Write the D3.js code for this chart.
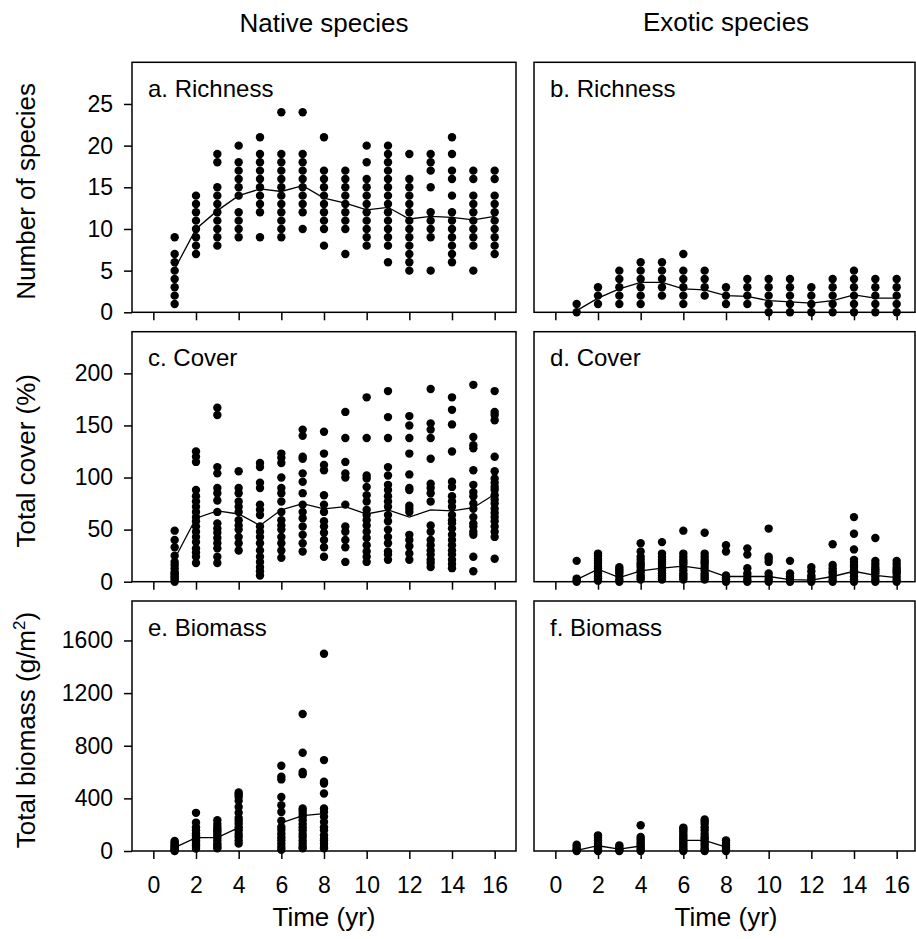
<!DOCTYPE html>
<html>
<head>
<meta charset="utf-8">
<script src="https://cdn.jsdelivr.net/npm/d3@7"></script>
<style>
  body { margin: 0; background: #fff; }
  text { font-family: "Liberation Sans", Arial, sans-serif; fill: #000; }
</style>
</head>
<body>
<script>
// data, one array per year (1..16)
var years = d3.range(1, 17);
var xTicks = [0, 2, 4, 6, 8, 10, 12, 14, 16];

var nativeRichness = [
  [1,2,3,4,5,6,7,9],
  [7,8,9,10,11,12,13,14],
  [8,9,10,11,12,13,14,15,18,19],
  [9,10,11,12,14,15,16,17,18,20],
  [9,12,13,14,15,16,17,18,19,21],
  [9,10,11,12,13,14,15,16,17,18,19,24],
  [10,12,13,14,15,16,17,18,19,24],
  [8,10,11,12,13,14,15,16,17,21],
  [7,10,11,12,13,14,15,16,17],
  [8,9,10,11,12,13,14,15,16,18,20],
  [6,8,9,10,11,12,13,14,15,16,17,18,19,20],
  [5,6,7,8,9,10,11,12,13,14,15,16,19],
  [5,9,10,11,12,15,17,18,19],
  [6,7,8,9,10,11,12,14,16,17,19,21],
  [5,8,9,10,11,12,13,14,16,17],
  [7,8,9,10,11,12,13,14,16,17]
];
var nativeRichnessMean = [5.2,10,12.2,14,14.8,14.5,15.2,13.7,13.1,12.3,12.6,11.2,11.5,11.4,11.1,11.5];

var exoticRichness = [
  [0,1], [1,2,3], [1,2,3,4,5], [1,2,3,4,5,6], [2,3,4,5,6], [1,2,3,4,5,7],
  [2,3,4,5], [1,2,3], [1,2,3,4], [0,1,2,3,4], [0,1,2,3,4], [0,1,2,3],
  [0,1,2,3,4], [0,1,2,3,4,5], [0,1,2,3,4], [0,1,2,3,4]
];
var exoticRichnessMean = [0.2,1.7,2.8,3.6,3.6,2.8,2.7,2.0,1.9,1.4,1.25,1.1,1.4,2.1,1.7,1.7];

var nativeCover = [
  [0,2,3.5,5,6.5,8,9.5,13,16,19,25,33,40,49],
  [18,24,28,32,38,43,48,53,58,62,67,72,77,82,88,115,120,125],
  [18,24,32,37,42,47,51,56,67,78,85,90,104,110,160,167],
  [30,37,43,50,54,59,67,72,77,85,90,106],
  [6,10,14,19,24,30,37,43,48,53,64,69,74,90,95,110,114],
  [23,30,37,43,50,54,59,67,77,85,90,100,114,119,123],
  [29,37,45,53,61,67,74,85,96,104,118,120,140,146],
  [24,33,40,47,53,58,67,74,83,107,112,123,144],
  [19,33,40,48,53,74,100,104,115,138,163],
  [19,24,29,35,42,48,54,59,64,69,77,83,91,99,102,138,177],
  [21,26,29,37,43,50,58,64,72,77,82,88,93,102,110,138,158,183],
  [21,27,34,40,45,67,70,73,88,90,103,123,138,150,159],
  [14,18,21,26,30,35,40,48,54,77,85,90,94,118,138,146,152,185],
  [13,17,21,26,30,35,40,45,51,56,59,64,72,77,82,91,96,125,151,165,177],
  [10,24,45,48,53,56,62,70,75,82,86,93,107,128,131,139,189],
  [22,43,48,53,58,62,66,70,75,79,83,88,91,95,99,106,120,155,160,163,183]
];
var nativeCoverMean = [22,61,68,65,54,69,75,70,72,65,69,62,69,68,71,84];

var exoticCover = [
  [0,1,3,20],
  [1,3,5,8,10,13,15,18,20,22,25,27],
  [0,2,5,8,10,12,14],
  [2,4,6,9,11,14,16,18,21,24,29,37],
  [2,4,6,8,11,14,17,19,21,24,27,38],
  [2,4,6,8,11,14,17,19,21,24,27,49],
  [2,4,6,8,11,14,17,19,21,24,27,47],
  [0,2,4,6,29,35],
  [0,2,5,8,13,26,32],
  [0,2,5,8,19,22,24,51],
  [0,2,5,8,20],
  [0,2,4,6,10,14],
  [0,2,5,8,10,13,16,36],
  [0,2,5,8,11,14,16,19,21,31,46,62],
  [0,2,5,8,10,12,14,17,20,42],
  [0,2,5,8,10,12,14,17,20]
];
var exoticCoverMean = [2,12,4,10.5,13,15,12,5,5,5,2,1.5,5,10,6,4];

// biomass only sampled in years 1-4 and 6-8
var nativeBiomass = [
  [0,5,10,18,25,35,43,55,65,76],
  [18,30,43,55,68,81,95,108,119,135,157,180,216,290],
  [20,30,45,60,81,100,115,132,150,165,183,205,234],
  [56,80,107,130,157,180,208,230,251,290,335,381,411,430,445],
  [],
  [10,30,55,81,105,132,160,183,230,297,348,411,544,564,648],
  [20,30,55,80,107,130,157,180,205,234,260,284,305,323,584,600,747,1041],
  [20,30,55,80,94,120,157,180,221,260,297,323,437,513,526,691,1499],
  [], [], [], [], [], [], [], []
];
var nativeBiomassMean = [25,102,102,178,null,213,269,284,null,null,null,null,null,null,null,null];

var exoticBiomass = [
  [0,5,15,30,48],
  [0,5,15,30,45,60,80,100,119],
  [0,5,15,30,43],
  [0,10,25,40,55,70,90,107,196],
  [],
  [0,10,25,40,55,70,85,100,115,132,150,165,178],
  [0,5,20,40,56,75,95,107,130,157,180,208,225,239],
  [0,10,25,43,60,81],
  [], [], [], [], [], [], [], []
];
var exoticBiomassMean = [5,40,15,38,null,81,81,30,null,null,null,null,null,null,null,null];

var rowMax = [30, 240, 1900];
var rowTicks = [[0,5,10,15,20,25], [0,50,100,150,200], [0,400,800,1200,1600]];
var rowTitles = ["Number of species", "Total cover (%)", "Total biomass (g/m"];
var colTitles = ["Native species", "Exotic species"];

var panels = [
  {label: "a. Richness", row: 0, col: 0, pts: nativeRichness, mean: nativeRichnessMean},
  {label: "b. Richness", row: 0, col: 1, pts: exoticRichness, mean: exoticRichnessMean},
  {label: "c. Cover",    row: 1, col: 0, pts: nativeCover,    mean: nativeCoverMean},
  {label: "d. Cover",    row: 1, col: 1, pts: exoticCover,    mean: exoticCoverMean},
  {label: "e. Biomass",  row: 2, col: 0, pts: nativeBiomass,  mean: nativeBiomassMean},
  {label: "f. Biomass",  row: 2, col: 1, pts: exoticBiomass,  mean: exoticBiomassMean}
];

var w = 916, h = 939;
var colLeft = [132, 534], colFrameW = [384, 381], scaleW = 384;
var rowTop = [62.3, 331.7, 601], ph = 250;

var svg = d3.select("body").append("svg")
    .attr("width", w)
    .attr("height", h);

function xScale(col) {
  return d3.scaleLinear().domain([-1, 17]).range([colLeft[col], colLeft[col] + scaleW]);
}
function yScale(row) {
  return d3.scaleLinear().domain([0, rowMax[row]]).range([rowTop[row] + ph, rowTop[row]]);
}

panels.forEach(function(p) {
  var x = xScale(p.col), y = yScale(p.row);
  var g = svg.append("g");

  // x ticks on every panel, labels only on the bottom row
  var xa = g.append("g")
      .attr("transform", "translate(0," + (rowTop[p.row] + ph) + ")")
      .call(d3.axisBottom(x).tickValues(xTicks).tickSize(8).tickPadding(18)
        .tickFormat(p.row == 2 ? d3.format("d") : function() { return ""; }));
  xa.select(".domain").remove();

  if (p.col == 0) {
    var ya = g.append("g")
        .attr("transform", "translate(" + colLeft[0] + ",0)")
        .call(d3.axisLeft(y).tickValues(rowTicks[p.row]).tickSize(8).tickPadding(11)
          .tickFormat(d3.format("d")));
    ya.select(".domain").remove();
  }
  g.selectAll(".tick line").attr("stroke", "#000").attr("stroke-width", 1.5);
  g.selectAll(".tick text").style("font-size", "23px").attr("fill", "#000");

  g.append("rect")
      .attr("x", colLeft[p.col])
      .attr("y", rowTop[p.row])
      .attr("width", colFrameW[p.col])
      .attr("height", ph)
      .attr("fill", "none")
      .attr("stroke", "#000")
      .attr("stroke-width", 1.5);

  var flat = [];
  p.pts.forEach(function(vals, i) {
    vals.forEach(function(v) { flat.push({t: years[i], v: v}); });
  });

  g.selectAll("circle")
      .data(flat)
      .enter()
      .append("circle")
      .attr("cx", function(d) { return x(d.t); })
      .attr("cy", function(d) { return y(d.v); })
      .attr("r", 4.2)
      .attr("fill", "#000");

  var line = d3.line()
      .defined(function(d) { return d != null; })
      .x(function(d, i) { return x(years[i]); })
      .y(function(d) { return y(d); });

  g.append("path")
      .attr("d", line(p.mean))
      .attr("fill", "none")
      .attr("stroke", "#000")
      .attr("stroke-width", 1.3);

  g.append("text")
      .attr("x", colLeft[p.col] + 16)
      .attr("y", rowTop[p.row] + 34.5)
      .style("font-size", "24px")
      .text(p.label);
});

// column headings
svg.append("text")
    .attr("x", xScale(0)(8)).attr("y", 32.3)
    .attr("text-anchor", "middle")
    .style("font-size", "26px")
    .text(colTitles[0]);
svg.append("text")
    .attr("x", xScale(1)(8)).attr("y", 30.7)
    .attr("text-anchor", "middle")
    .style("font-size", "26px")
    .text(colTitles[1]);

// x titles
[0, 1].forEach(function(c) {
  svg.append("text")
      .attr("x", xScale(c)(8)).attr("y", 926)
      .attr("text-anchor", "middle")
      .style("font-size", "26px")
      .text("Time (yr)");
});

// y titles
rowTitles.forEach(function(t, r) {
  var cy = rowTop[r] + ph / 2 + 4;
  var txt = svg.append("text")
      .attr("transform", "translate(34.5," + cy + ") rotate(-90)")
      .attr("text-anchor", "middle")
      .style("font-size", "26px");
  txt.append("tspan").text(t);
  if (r == 2) {
    txt.append("tspan").attr("dy", -10).style("font-size", "17px").text("2");
    txt.append("tspan").attr("dy", 10).text(")");
  }
});
</script>
</body>
</html>
